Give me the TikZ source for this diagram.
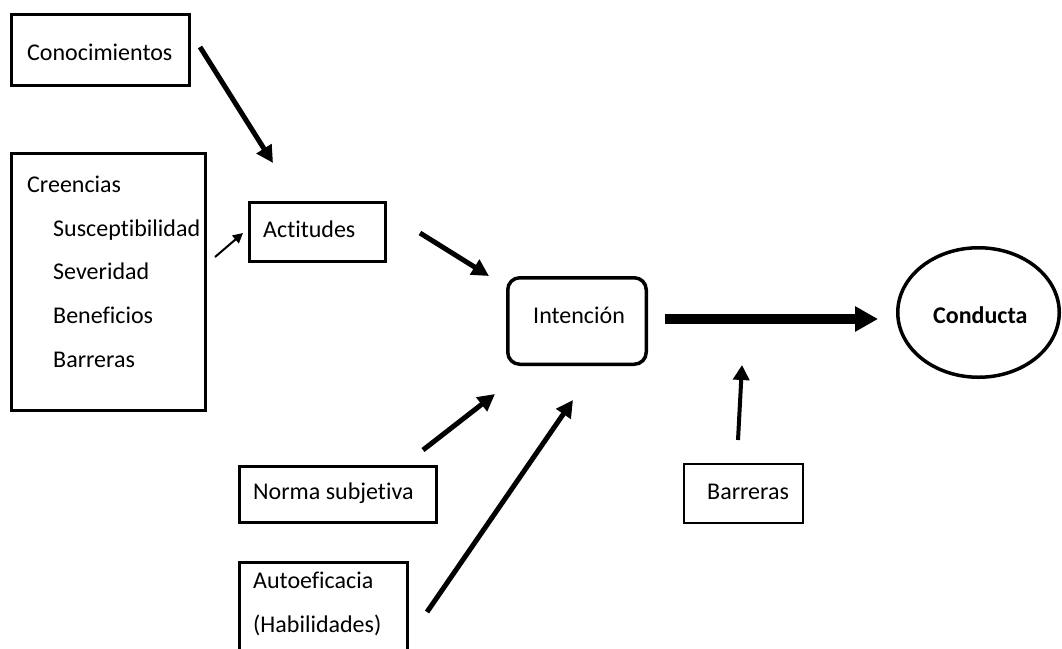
\documentclass[tikz,border=0pt]{standalone}
\usepackage{fontspec}
\setmainfont{Carlito}[Ligatures={NoCommon,NoRequired,NoContextual}]
\usetikzlibrary{arrows.meta,shapes.geometric}

\tikzset{
  box/.style={draw, line width=3pt, inner sep=0pt},
  thinbox/.style={draw, line width=2pt, inner sep=0pt},
  txt/.style={anchor=base west, inner sep=0pt, font=\fontsize{24}{29}\selectfont},
  arr/.style={line width=5pt, -{Triangle[length=17pt,width=17pt]}},
  thinarr/.style={line width=2pt, -{Triangle[length=10pt,width=10pt]}},
  midarr/.style={line width=4pt, -{Triangle[length=15pt,width=16pt]}},
  bigarr/.style={line width=10pt, -{Triangle[length=23pt,width=24pt]}},
}

\begin{document}
\begin{tikzpicture}[x=1pt,y=-1pt]
  % canvas
  \fill[white] (0,0) rectangle (1062,648);
  \useasboundingbox (0,0) rectangle (1062,648);

  % boxes
  \node[box, minimum width=178pt, minimum height=71pt] (conoc) at (100.5,50) {};
  \node[box, minimum width=194pt, minimum height=257pt] (creencias) at (108.5,282) {};
  \node[box, minimum width=136pt, minimum height=59pt] (actitudes) at (317.5,232) {};
  \node[box, line width=3.5pt, rounded corners=12pt, minimum width=138.5pt, minimum height=86.5pt] (intencion) at (577,321) {};
  \node[box, line width=3.5pt, ellipse, minimum width=161.5pt, minimum height=129.5pt] (conducta) at (978.5,312.5) {};
  \node[box, minimum width=197pt, minimum height=56pt] (norma) at (338,494.5) {};
  \node[box, minimum width=168pt, minimum height=117.5pt] (autoef) at (323.5,621.25) {};
  \node[thinbox, minimum width=119pt, minimum height=59pt] (barrbox) at (743.5,493.5) {};

  % texts
  \node[txt] (tconoc) at (27,60) {Conocimientos};
  \node[txt] (tcre) at (27,192) {Creencias};
  \node[txt] (tsus) at (53,236) {Susceptibilidad};
  \node[txt] (tsev) at (53,279.5) {Severidad};
  \node[txt] (tben) at (53,323) {Beneficios};
  \node[txt] (tbar) at (53,367) {Barreras};
  \node[txt] (tact) at (263,237) {Actitudes};
  \node[txt] (tint) at (533,323) {Intención};
  \node[txt, font=\fontsize{24}{29}\selectfont\bfseries] (tcond) at (933,323) {Conducta};
  \node[txt] (tnorma) at (253,499) {Norma subjetiva};
  \node[txt] (tbarr) at (707,499) {Barreras};
  \node[txt] (tauto) at (253,588) {Autoeficacia};
  \node[txt] (thab) at (253,632) {(Habilidades)};

  % arrow end points
  \coordinate (c1) at (200,47);   \coordinate (c2) at (273,163);
  \coordinate (c3) at (215,257);  \coordinate (c4) at (243,233);
  \coordinate (c5) at (420,233);  \coordinate (c6) at (489,276);
  \coordinate (c7) at (423,450);  \coordinate (c8) at (495,394);
  \coordinate (c9) at (427,612);  \coordinate (c10) at (573,400);
  \coordinate (c11) at (738,440); \coordinate (c12) at (742,365);
  \coordinate (c13) at (665,319); \coordinate (c14) at (878,319);

  % connectors
  \draw[arr] (c1) -- (c2);
  \draw[thinarr] (c3) -- (c4);
  \draw[arr] (c5) -- (c6);
  \draw[arr] (c7) -- (c8);
  \draw[arr] (c9) -- (c10);
  \draw[midarr] (c11) -- (c12);
  \draw[bigarr] (c13) -- (c14);
\end{tikzpicture}
\end{document}
